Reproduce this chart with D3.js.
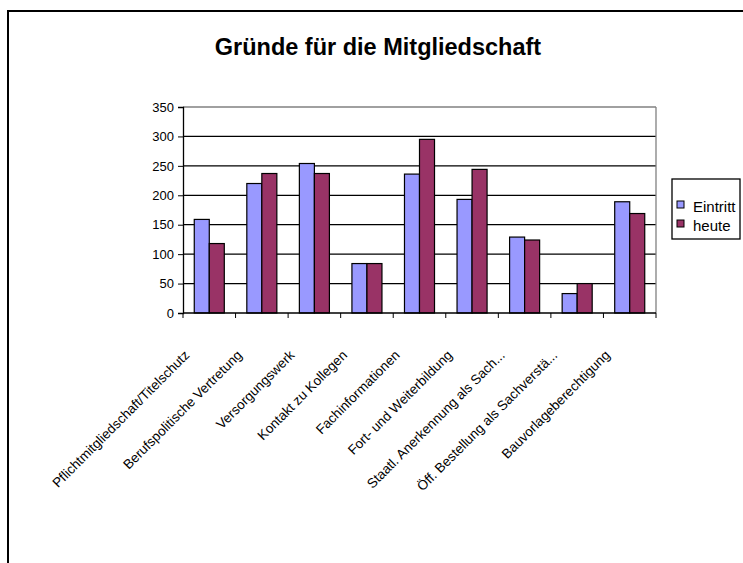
<!DOCTYPE html>
<html>
<head>
<meta charset="utf-8">
<script src="https://cdn.jsdelivr.net/npm/d3@7"></script>
<style>
  body { margin: 0; background: #fff; }
  text { font-family: "Liberation Sans", Arial, sans-serif; }
</style>
</head>
<body>
<svg id="vis-svg" width="743" height="563"></svg>
<script>
// data
const categories = [
    "Pflichtmitgliedschaft/Titelschutz",
    "Berufspolitische Vertretung",
    "Versorgungswerk",
    "Kontakt zu Kollegen",
    "Fachinformationen",
    "Fort- und Weiterbildung",
    "Staatl. Anerkennung als Sach...",
    "Öff. Bestellung als Sachverstä...",
    "Bauvorlageberechtigung"
];
const eintritt = [159, 220, 254, 84, 236, 193, 129, 33, 189];
const heute = [118, 237, 237, 84, 295, 244, 124, 50, 169];
const seriesNames = ["Eintritt", "heute"];
const seriesColors = ["#9999ff", "#993366"];
const yTicks = [0, 50, 100, 150, 200, 250, 300, 350];

const margin = {top: 107, right: 87, bottom: 250, left: 183},
      width = 743 - margin.left - margin.right,
      height = 563 - margin.top - margin.bottom;

const svg = d3.select("#vis-svg");

// outer frame
svg.append("rect")
    .attr("x", 8).attr("y", 11)
    .attr("width", 760).attr("height", 570)
    .attr("fill", "none")
    .attr("stroke", "#000")
    .attr("stroke-width", 2);

// title
svg.append("text")
    .attr("x", 378).attr("y", 55)
    .attr("text-anchor", "middle")
    .style("font-size", "23.5px")
    .style("font-weight", "bold")
    .text("Gründe für die Mitgliedschaft");

const g = svg.append("g")
    .attr("transform", "translate(" + margin.left + "," + margin.top + ")");

const x = d3.scaleBand().domain(categories).range([0, width]);
const xs = d3.scaleBand().domain(seriesNames).range([0, x.bandwidth()]).paddingInner(0).paddingOuter(0.75);
const y = d3.scaleLinear().domain([0, 350]).range([height, 0]);

// gridlines
g.selectAll(".grid")
    .data(yTicks.filter(d => d > 0))
  .enter().append("line")
    .attr("x1", 0).attr("x2", width)
    .attr("y1", d => y(d)).attr("y2", d => y(d))
    .attr("stroke", d => d === 350 ? "#808080" : "#000")
    .attr("stroke-width", 1.3);

// right border of plot area
g.append("line")
    .attr("x1", width).attr("x2", width)
    .attr("y1", 0).attr("y2", height)
    .attr("stroke", "#808080")
    .attr("stroke-width", 1.3);

// bars
const rows = categories.map((c, i) => ({cat: c, values: [eintritt[i], heute[i]]}));
const groups = g.selectAll(".cat")
    .data(rows)
  .enter().append("g")
    .attr("transform", d => "translate(" + x(d.cat) + ",0)");

groups.selectAll("rect")
    .data(d => d.values.map((v, j) => ({name: seriesNames[j], value: v, color: seriesColors[j]})))
  .enter().append("rect")
    .attr("x", d => xs(d.name))
    .attr("y", d => y(d.value))
    .attr("width", xs.bandwidth())
    .attr("height", d => height - y(d.value))
    .attr("fill", d => d.color)
    .attr("stroke", "#000")
    .attr("stroke-width", 1.2);

// y axis
const yAxis = g.append("g")
    .call(d3.axisLeft(y).tickValues(yTicks).tickSize(5).tickPadding(4));
yAxis.select(".domain").attr("stroke-width", 1.3);
yAxis.selectAll("text").style("font-size", "13px").attr("fill", "#000");

// x axis, ticks on category boundaries
g.append("line")
    .attr("x1", 0).attr("x2", width)
    .attr("y1", height).attr("y2", height)
    .attr("stroke", "#000").attr("stroke-width", 1.3);
g.selectAll(".xtick")
    .data(d3.range(categories.length + 1))
  .enter().append("line")
    .attr("x1", i => i * x.step()).attr("x2", i => i * x.step())
    .attr("y1", height).attr("y2", height + 5)
    .attr("stroke", "#000");

g.selectAll(".xlabel")
    .data(categories)
  .enter().append("text")
    .attr("text-anchor", "end")
    .attr("transform", d => "translate(" + (x(d) + x.bandwidth() / 2 - 19) + "," + (height + 43) + ") rotate(-45)")
    .style("font-size", "13.5px")
    .text(d => d);

// legend
const legend = svg.append("g").attr("transform", "translate(672,179)");
legend.append("rect")
    .attr("width", 68).attr("height", 60)
    .attr("fill", "#fff").attr("stroke", "#000").attr("stroke-width", 1.3);
seriesNames.forEach((s, i) => {
    legend.append("rect")
        .attr("x", 5).attr("y", 22 + i * 19)
        .attr("width", 7).attr("height", 7)
        .attr("fill", seriesColors[i]).attr("stroke", "#000");
    legend.append("text")
        .attr("x", 21).attr("y", 33 + i * 19)
        .style("font-size", "15px")
        .text(s);
});
</script>
</body>
</html>
